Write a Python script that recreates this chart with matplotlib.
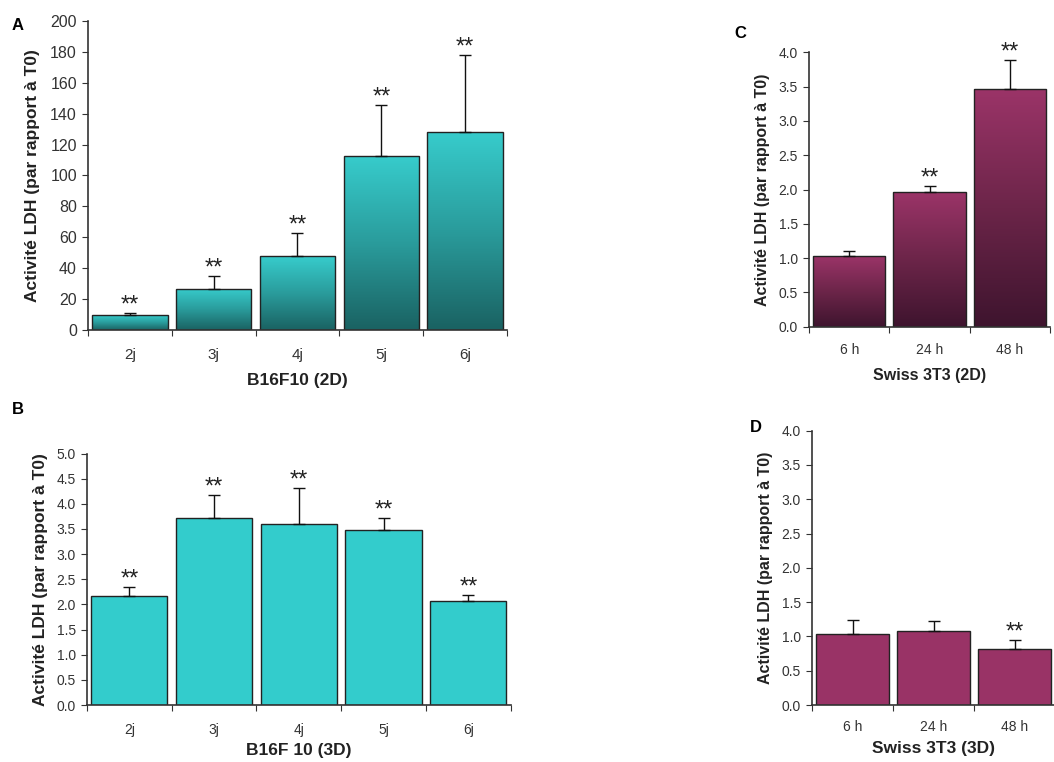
import numpy as np
import matplotlib
matplotlib.use("Agg")
import matplotlib.pyplot as plt
from matplotlib.colors import LinearSegmentedColormap
from matplotlib.patches import Rectangle

plt.rcParams['font.family'] = ['Liberation Sans', 'DejaVu Sans']

# ---- data ----
jours = ['2j', '3j', '4j', '5j', '6j']
heures = ['6 h', '24 h', '48 h']

a_vals = [9.5, 26.7, 47.6, 112.9, 128.2]
a_err = [1.7, 8.4, 15.1, 32.6, 49.6]
a_sig = [True, True, True, True, True]

b_vals = [2.16, 3.71, 3.59, 3.47, 2.07]
b_err = [0.18, 0.47, 0.73, 0.24, 0.12]
b_sig = [True, True, True, True, True]

c_vals = [1.03, 1.96, 3.47]
c_err = [0.08, 0.09, 0.42]
c_sig = [False, True, True]

d_vals = [1.03, 1.08, 0.82]
d_err = [0.21, 0.14, 0.13]
d_sig = [False, False, True]

ylab = 'Activité LDH (par rapport à T0)'

teal_cm = LinearSegmentedColormap.from_list('teal', ['#1a6262', '#2a9c9c', '#37cccc'])
plum_cm = LinearSegmentedColormap.from_list('plum', ['#3e142e', '#6c2549', '#9b3468'])


def panel(rect, cats, vals, errs, sig, ymax, ystep, fmt, xlabel, letter, letter_xy,
          flat=None, cmap=None, fs_tick=10, fs_xt=10, fs_ylab=11.5, fs_xlab=12,
          ylpad=6, xtpad=11, xlpad=3):
    ax = fig.add_axes(rect)
    x = np.arange(len(cats))
    w = 0.9
    if flat is not None:
        ax.bar(x, vals, width=w, color=flat, edgecolor='#222222', linewidth=1.0, zorder=2)
    else:
        # vertical gradient inside each bar
        grad = np.linspace(0, 1, 256).reshape(-1, 1)
        for xi, v in zip(x, vals):
            im = ax.imshow(grad, cmap=cmap, origin='lower', aspect='auto',
                           extent=(xi - w / 2, xi + w / 2, 0, v), zorder=1)
            r = Rectangle((xi - w / 2, 0), w, v, facecolor='none',
                          edgecolor='#222222', linewidth=1.0, zorder=2)
            ax.add_patch(r)
            im.set_clip_path(r)
    ax.errorbar(x, vals, yerr=[np.zeros(len(vals)), errs], fmt='none',
                ecolor='#111111', elinewidth=1.0, capsize=4, capthick=1.0, zorder=3)
    for xi, v, e, s in zip(x, vals, errs, sig):
        if s:
            ax.annotate('**', (xi, v + e), xytext=(0, 1), textcoords='offset points',
                        ha='center', va='baseline', fontsize=17, color='#222222')
    ax.set_xlim(-0.5, len(cats) - 0.5)
    ax.set_ylim(0, ymax)
    ticks = np.arange(0, ymax + ystep / 2, ystep)
    ax.set_yticks(ticks)
    ax.set_yticklabels([fmt.format(t) for t in ticks], fontsize=fs_tick, color='#333333')
    ax.set_xticks(np.arange(-0.5, len(cats), 1.0))
    ax.set_xticklabels([])
    ax.set_xticks(x, minor=True)
    ax.set_xticklabels(cats, minor=True, fontsize=fs_xt, color='#333333')
    ax.tick_params(axis='x', which='minor', length=0, pad=xtpad)
    ax.tick_params(axis='x', which='major', length=4, direction='out', color='#333333')
    ax.tick_params(axis='y', length=4, direction='out', color='#333333', pad=4)
    for s in ['top', 'right']:
        ax.spines[s].set_visible(False)
    for s in ['left', 'bottom']:
        ax.spines[s].set_color('#333333')
        ax.spines[s].set_linewidth(1.2)
    ax.set_xlabel(xlabel, fontsize=fs_xlab, fontweight='bold', color='#222222', labelpad=xlpad)
    ax.set_ylabel(ylab, fontsize=fs_ylab, fontweight='bold', color='#222222', labelpad=ylpad)
    fig.text(letter_xy[0] / 1054, 1 - letter_xy[1] / 762, letter, fontsize=12,
             fontweight='bold', ha='left', va='center')
    return ax


fig = plt.figure(figsize=(10.54, 7.62), dpi=100)

panel([0.0835, 0.567, 0.3975, 0.4055], jours, a_vals, a_err, a_sig, 200, 20, '{:.0f}',
      'B16F10 (2D)', 'A', (12, 25), cmap=teal_cm,
      fs_tick=11.5, fs_xt=11, fs_ylab=12.5, fs_xlab=12.5, ylpad=7, xtpad=13, xlpad=8)
panel([0.0825, 0.0748, 0.402, 0.330], jours, b_vals, b_err, b_sig, 5.0, 0.5, '{:.1f}',
      'B16F 10 (3D)', 'B', (12, 410), flat='#33cccc',
      fs_tick=10, fs_xt=10, fs_ylab=12.5, fs_xlab=12.5, ylpad=6, xtpad=13, xlpad=4)
panel([0.7676, 0.5713, 0.2287, 0.360], heures, c_vals, c_err, c_sig, 4.0, 0.5, '{:.1f}',
      'Swiss 3T3 (2D)', 'C', (734, 34), cmap=plum_cm,
      fs_tick=10, fs_xt=10, fs_ylab=11.5, fs_xlab=11.5, ylpad=6, xtpad=12, xlpad=8)
panel([0.7705, 0.0748, 0.2305, 0.360], heures, d_vals, d_err, d_sig, 4.0, 0.5, '{:.1f}',
      'Swiss 3T3 (3D)', 'D', (750, 427), flat='#993366',
      fs_tick=10, fs_xt=10, fs_ylab=11.5, fs_xlab=12.5, ylpad=6, xtpad=11, xlpad=5)

fig.savefig('out.png', dpi=100)
